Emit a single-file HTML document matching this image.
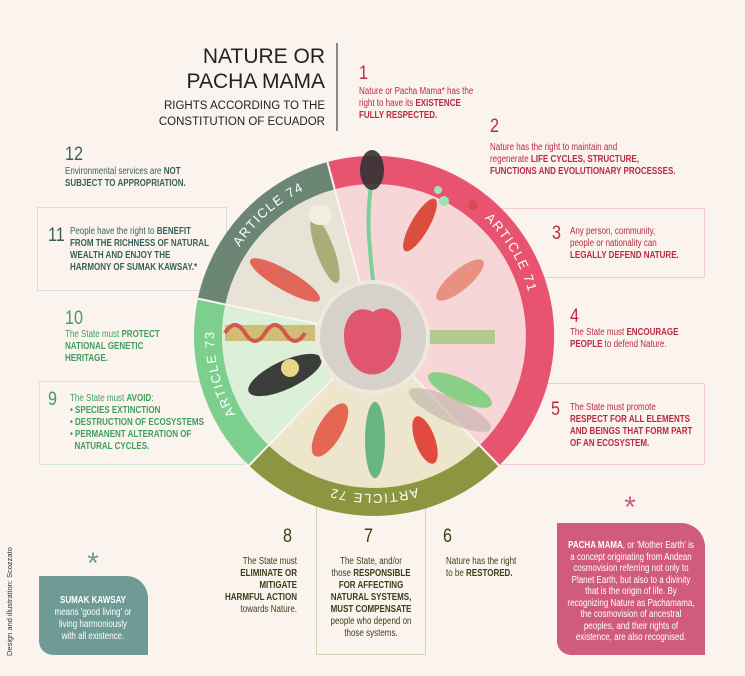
<!DOCTYPE html>
<html><head><meta charset="utf-8">
<style>
body{margin:0;background:#fbf4ee;}
#c{position:relative;width:745px;height:676px;overflow:hidden;background:#fbf4ee;font-family:"Liberation Sans",sans-serif;}
.a{position:absolute;white-space:nowrap;}
.t{font-size:10px;line-height:12px;transform:scaleX(.8);transform-origin:left top;}
.sr{transform-origin:right top}
.sc{transform-origin:center top}
.n{font-size:19px;line-height:20px;transform:scaleX(.85);transform-origin:left top;}
.red{color:#b92a40}.teal{color:#36605b}.grn{color:#3f9d5e}.olv{color:#3d3d18}
b{font-weight:bold}
.box{position:absolute;border:1.5px solid;box-sizing:border-box;}
</style></head><body><div id="c">

<div class="box" style="left:37px;top:207px;width:190px;height:84px;border-color:#dcdcd6"></div>
<div class="box" style="left:490px;top:208px;width:215px;height:70px;border-color:#f0ccd2"></div>
<div class="box" style="left:39px;top:381px;width:205px;height:84px;border-color:#cfe9d3"></div>
<div class="box" style="left:490px;top:383px;width:215px;height:82px;border-color:#f0ccd2"></div>
<div class="box" style="left:316px;top:495px;width:110px;height:160px;border-color:#d6d3bb"></div>

<svg class="a" style="left:0;top:0" width="745" height="676">
<defs><path id="ring" d="M374 174 A160 160 0 1 1 373.9 174 Z"/></defs>
<path d="M374 336 L334.7 189.2 A152 152 0 0 1 479.6 445.3 Z" fill="#f7d6d8"/>
<path d="M374 336 L479.6 445.3 A152 152 0 0 1 268.4 445.3 Z" fill="#ede6cd"/>
<path d="M374 336 L268.4 445.3 A152 152 0 0 1 225.3 304.4 Z" fill="#dcefd9"/>
<path d="M374 336 L225.3 304.4 A152 152 0 0 1 334.7 189.2 Z" fill="#e7e3d7"/>
<path d="M327.4 162 A180 180 0 0 1 499 465.5 L479.6 445.3 A152 152 0 0 0 334.7 189.2 Z" fill="#e85470"/>
<path d="M499 465.5 A180 180 0 0 1 249 465.5 L268.4 445.3 A152 152 0 0 0 479.6 445.3 Z" fill="#8c9640"/>
<path d="M249 465.5 A180 180 0 0 1 197.9 298.6 L225.3 304.4 A152 152 0 0 0 268.4 445.3 Z" fill="#7ccf8c"/>
<path d="M197.9 298.6 A180 180 0 0 1 327.4 162 L334.7 189.2 A152 152 0 0 0 225.3 304.4 Z" fill="#6c8676"/>
<g stroke="#fbf4ee" stroke-width="2"><line x1="374" y1="336" x2="327.4" y2="162"/><line x1="374" y1="336" x2="499" y2="465.5"/><line x1="374" y1="336" x2="249" y2="465.5"/><line x1="374" y1="336" x2="197.9" y2="298.6"/></g>
<g font-family="Liberation Sans" font-size="13" fill="#fff" letter-spacing="1.5">
<text><textPath href="#ring" startOffset="16.5%" text-anchor="middle">ARTICLE 71</textPath></text>
<text><textPath href="#ring" startOffset="50%" text-anchor="middle">ARTICLE 72</textPath></text>
<text><textPath href="#ring" startOffset="71%" text-anchor="middle">ARTICLE 73</textPath></text>
<text><textPath href="#ring" startOffset="88.5%" text-anchor="middle">ARTICLE 74</textPath></text>
</g>
<g opacity="0.9">
<path d="M374 290 C370 250 365 220 372 180" stroke="#6fcf95" stroke-width="4" fill="none"/>
<ellipse cx="372" cy="170" rx="12" ry="20" fill="#333"/>
<ellipse cx="420" cy="225" rx="9" ry="30" transform="rotate(30 420 225)" fill="#d9402d"/>
<ellipse cx="460" cy="280" rx="10" ry="30" transform="rotate(50 460 280)" fill="#e88a78"/>
<rect x="425" y="330" width="70" height="14" fill="#a9c98a"/>
<ellipse cx="460" cy="390" rx="35" ry="11" transform="rotate(25 460 390)" fill="#7fcf80"/>
<ellipse cx="450" cy="410" rx="45" ry="12" transform="rotate(25 450 410)" fill="#b9aaa4" opacity="0.6"/>
<ellipse cx="425" cy="440" rx="10" ry="25" transform="rotate(-20 425 440)" fill="#e03a30"/>
<ellipse cx="375" cy="440" rx="10" ry="38" fill="#5bb07a"/>
<ellipse cx="330" cy="430" rx="12" ry="30" transform="rotate(30 330 430)" fill="#e55a46"/>
<ellipse cx="285" cy="375" rx="40" ry="14" transform="rotate(-25 285 375)" fill="#2a2a2a"/>
<circle cx="290" cy="368" r="9" fill="#e7d57a"/>
<rect x="225" y="325" width="90" height="16" fill="#c8a03c" opacity="0.7"/>
<path d="M225 333 q10 -16 20 0 t20 0 t20 0 t20 0" stroke="#d2473d" stroke-width="4" fill="none"/>
<ellipse cx="285" cy="280" rx="40" ry="10" transform="rotate(30 285 280)" fill="#e25a4e"/>
<ellipse cx="325" cy="250" rx="9" ry="35" transform="rotate(-20 325 250)" fill="#a3a86e"/>
<ellipse cx="320" cy="215" rx="12" ry="10" fill="#f5efdc"/>
</g>
<circle cx="373" cy="337" r="55" fill="#d6d1cb" stroke="#eee8e0" stroke-width="4"/>
<path d="M373 312 C350 300 335 330 350 360 C360 380 388 380 397 355 C410 320 390 300 373 312 Z" fill="#e0566e"/>
<circle cx="438" cy="190" r="4" fill="#9be3b3"/><circle cx="444" cy="201" r="5" fill="#9be3b3"/><circle cx="473" cy="205" r="5" fill="#d44a55"/>
<line x1="337" y1="43" x2="337" y2="131" stroke="#444" stroke-width="1.2"/>
<text x="630" y="517" font-size="30" fill="#d05b7c" text-anchor="middle" font-family="Liberation Sans">*</text>
<text x="93" y="573" font-size="30" fill="#6e9b95" text-anchor="middle" font-family="Liberation Sans">*</text>
<text transform="translate(12,656) rotate(-90)" font-size="7.5" fill="#333" font-family="Liberation Sans">Design and illustration: Scozzato</text>
</svg>

<div class="a" style="right:420px;top:44px;text-align:right;color:#222;">
<div style="font-size:21px;line-height:25px;">NATURE OR<br>PACHA MAMA</div>
<div style="font-size:11.5px;line-height:16px;margin-top:4px">RIGHTS ACCORDING TO THE<br>CONSTITUTION OF ECUADOR</div>
</div>

<div class="a n red" style="left:359px;top:64px">1</div>
<div class="a t red" style="left:359px;top:86px">Nature or Pacha Mama* has the<br>right to have its <b>EXISTENCE<br>FULLY RESPECTED.</b></div>

<div class="a n red" style="left:490px;top:117px">2</div>
<div class="a t red" style="left:490px;top:142px">Nature has the right to maintain and<br>regenerate <b>LIFE CYCLES, STRUCTURE,<br>FUNCTIONS AND EVOLUTIONARY PROCESSES.</b></div>

<div class="a n teal" style="left:65px;top:145px">12</div>
<div class="a t teal" style="left:65px;top:166px">Environmental services are <b>NOT<br>SUBJECT TO APPROPRIATION.</b></div>

<div class="a n teal" style="left:48px;top:226px">11</div>
<div class="a t teal" style="left:70px;top:226px">People have the right to <b>BENEFIT<br>FROM THE RICHNESS OF NATURAL<br>WEALTH AND ENJOY THE<br>HARMONY OF SUMAK KAWSAY.*</b></div>

<div class="a n red" style="left:552px;top:224px">3</div>
<div class="a t red" style="left:570px;top:226px">Any person, community,<br>people or nationality can<br><b>LEGALLY DEFEND NATURE.</b></div>

<div class="a n grn" style="left:65px;top:309px">10</div>
<div class="a t grn" style="left:65px;top:329px">The State must <b>PROTECT<br>NATIONAL GENETIC<br>HERITAGE.</b></div>

<div class="a n red" style="left:570px;top:307px">4</div>
<div class="a t red" style="left:570px;top:327px">The State must <b>ENCOURAGE<br>PEOPLE</b> to defend Nature.</div>

<div class="a n grn" style="left:48px;top:390px">9</div>
<div class="a t grn" style="left:70px;top:393px">The State must <b>AVOID</b>:<br><b>• SPECIES EXTINCTION<br>• DESTRUCTION OF ECOSYSTEMS<br>• PERMANENT ALTERATION OF<br>&nbsp;&nbsp;NATURAL CYCLES.</b></div>

<div class="a n red" style="left:551px;top:400px">5</div>
<div class="a t red" style="left:570px;top:402px">The State must promote<br><b>RESPECT FOR ALL ELEMENTS<br>AND BEINGS THAT FORM PART<br>OF AN ECOSYSTEM.</b></div>

<div class="a n olv" style="left:283px;top:527px">8</div>
<div class="a t sr olv" style="right:448px;top:556px;text-align:right">The State must<br><b>ELIMINATE OR<br>MITIGATE<br>HARMFUL ACTION</b><br>towards Nature.</div>

<div class="a n olv" style="left:364px;top:527px">7</div>
<div class="a t sc olv" style="left:301px;width:140px;top:556px;text-align:center">The State, and/or<br>those <b>RESPONSIBLE<br>FOR AFFECTING<br>NATURAL SYSTEMS,<br>MUST COMPENSATE</b><br>people who depend on<br>those systems.</div>

<div class="a n olv" style="left:443px;top:527px">6</div>
<div class="a t olv" style="left:446px;top:556px">Nature has the right<br>to be <b>RESTORED.</b></div>

<div class="a" style="left:39px;top:576px;width:109px;height:79px;background:#6e9b95;border-radius:0 22px 0 14px;"></div>
<div class="a t sc" style="left:25px;width:136px;top:595px;text-align:center;color:#fff"><b>SUMAK KAWSAY</b><br>means 'good living' or<br>living harmoniously<br>with all existence.</div>

<div class="a" style="left:557px;top:523px;width:148px;height:132px;background:#d05b7c;border-radius:0 24px 0 14px;"></div>
<div class="a t sc" style="left:538px;width:186px;top:540px;text-align:center;color:#fff;line-height:11.5px"><b>PACHA MAMA</b>, or 'Mother Earth' is<br>a concept originating from Andean<br>cosmovision referring not only to<br>Planet Earth, but also to a divinity<br>that is the origin of life. By<br>recognizing Nature as Pachamama,<br>the cosmovision of ancestral<br>peoples, and their rights of<br>existence, are also recognised.</div>

</div></body></html>
